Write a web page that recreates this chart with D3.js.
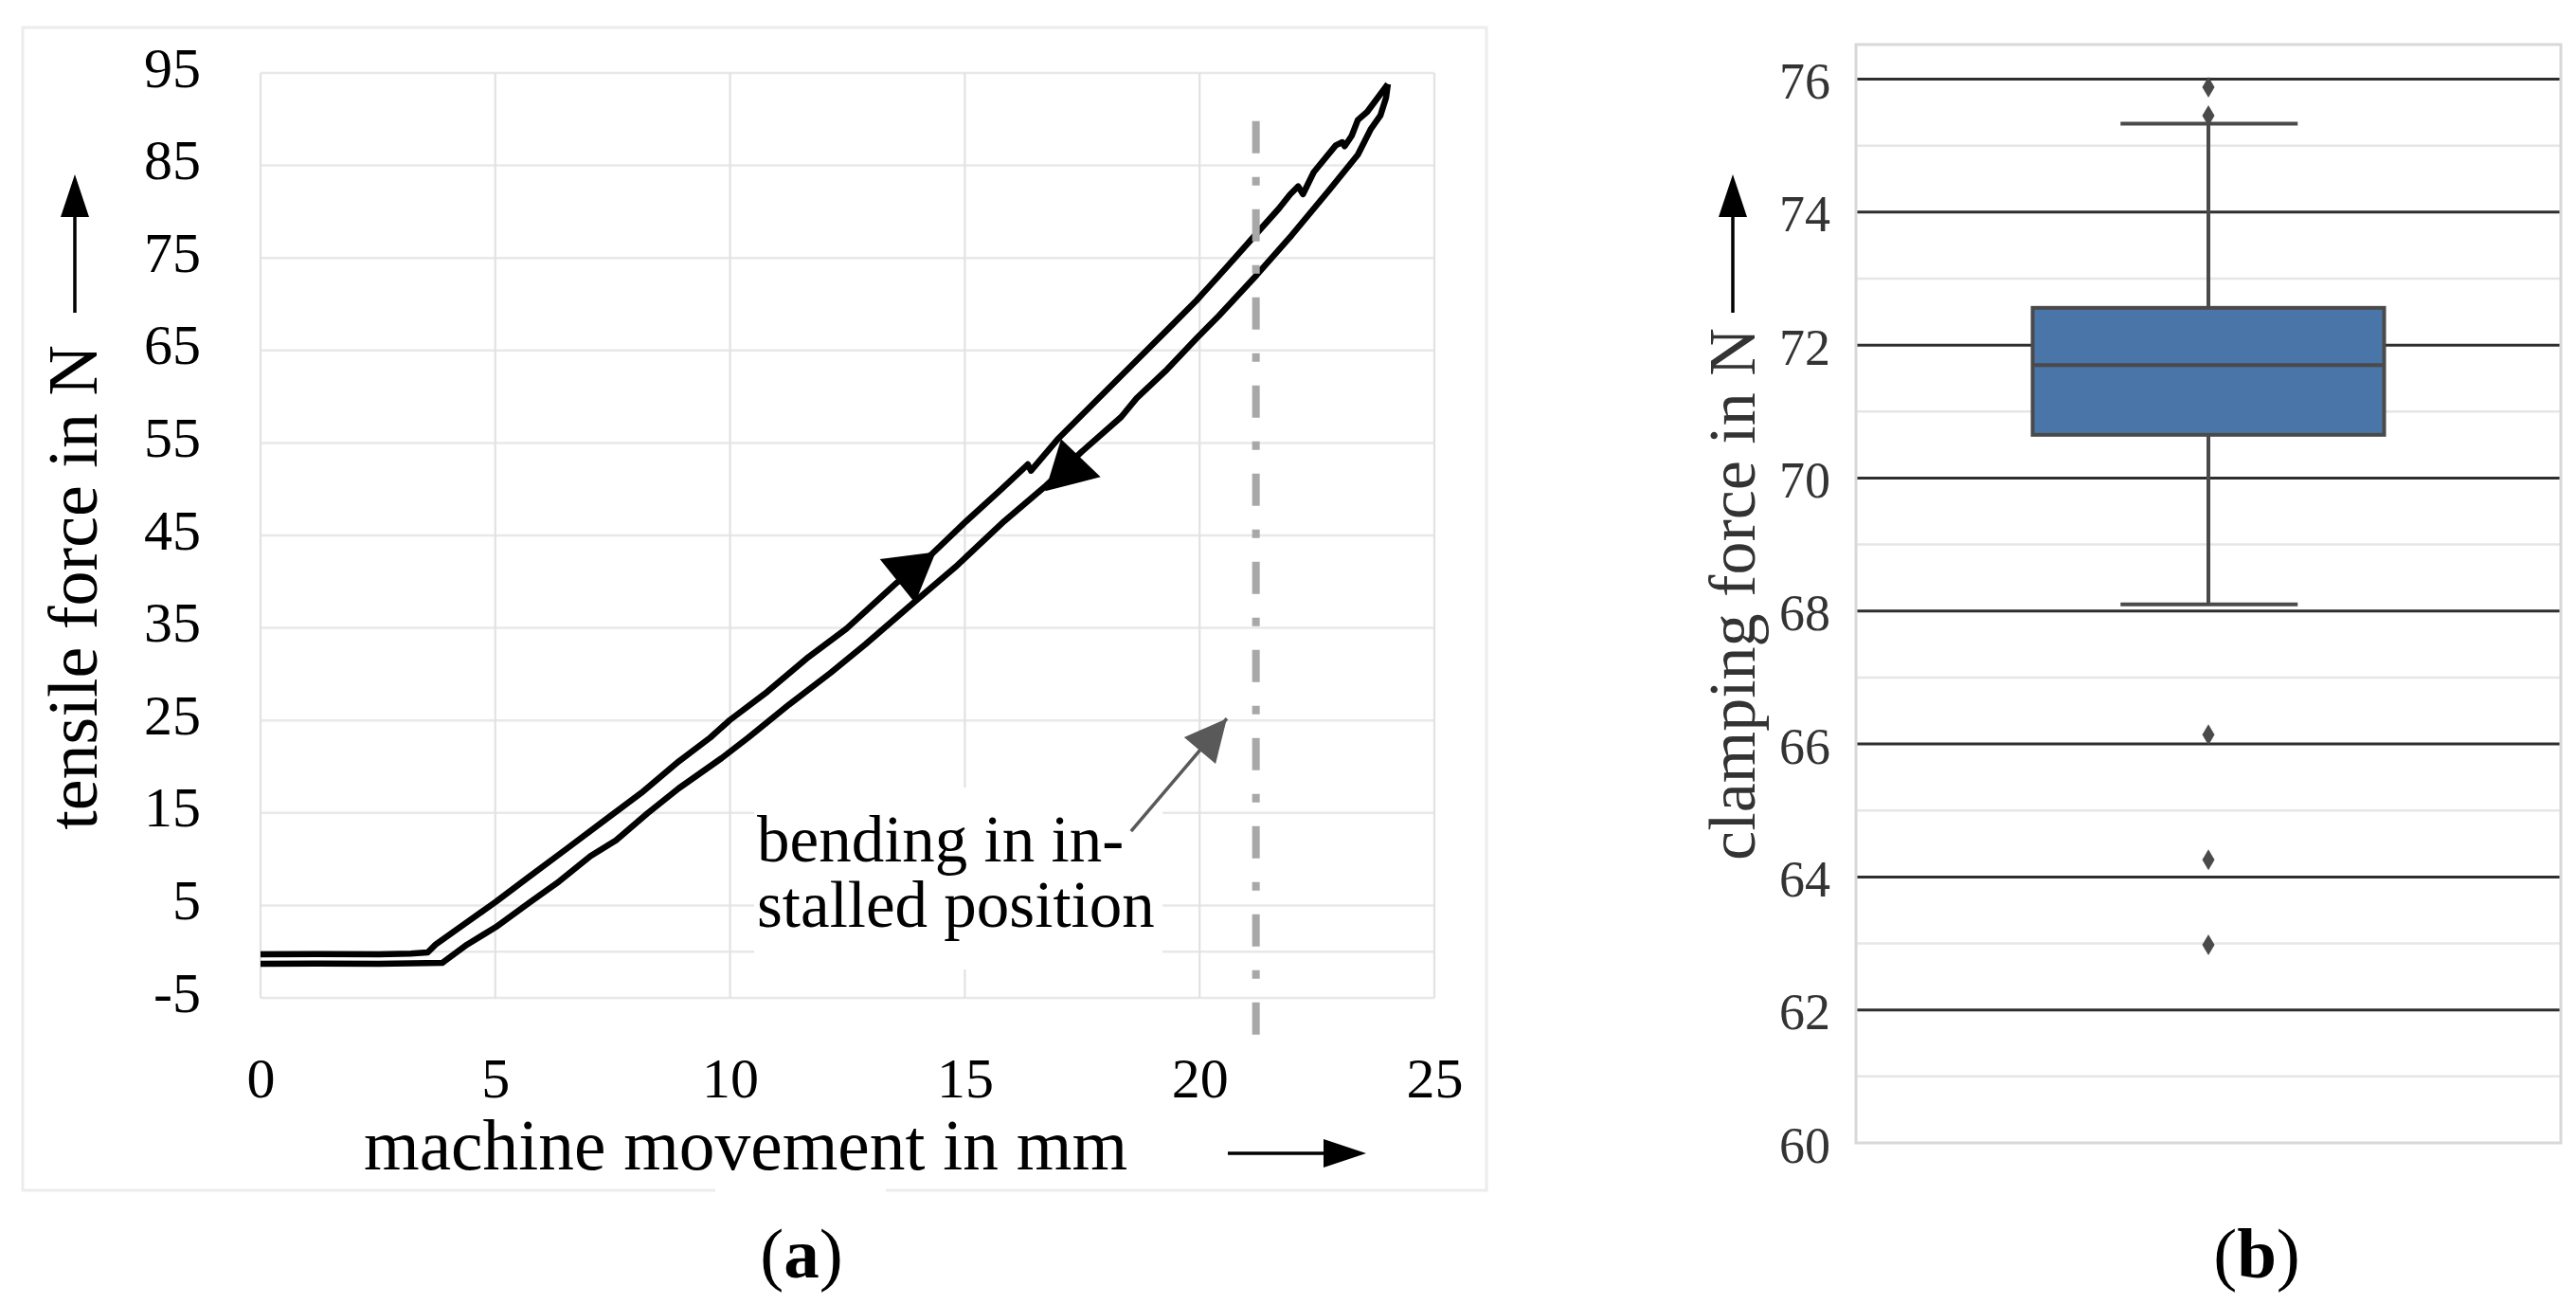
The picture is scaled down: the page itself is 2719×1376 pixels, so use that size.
<!DOCTYPE html>
<html>
<head>
<meta charset="utf-8">
<script src="https://cdn.jsdelivr.net/npm/d3@7"></script>
<style>
    html, body { margin: 0; background: #fff; }
    svg { display: block; }
    text { font-family: "Liberation Serif", serif; }
</style>
</head>
<body>
<svg width="2719" height="1376"></svg>
<script>
// panel a: tensile test
const movementTicks = [0, 5, 10, 15, 20, 25];
const forceTicks = [95, 85, 75, 65, 55, 45, 35, 25, 15, 5, -5];
const forceGrid = [95, 85, 75, 65, 55, 45, 35, 25, 15, 5, 0, -5];

const loadingX = [0, 1.2, 2.52, 3.2, 3.56, 3.73, 4.34, 5.01, 5.68, 6.49, 7.3, 8.11, 8.91, 9.58, 9.99, 10.79, 11.67, 12.48, 13.55, 14.29, 15.03, 15.77, 16.34, 16.41, 16.98, 17.92, 18.73, 19.34, 19.94, 20.55, 21.09, 21.69, 21.93, 22.1, 22.2, 22.43, 22.9, 23.04, 23.09, 23.24, 23.37, 23.57, 24.01];
const loadingY = [-0.29, -0.25, -0.29, -0.2, -0.08, 0.77, 2.99, 5.38, 7.94, 11.01, 14.09, 17.16, 20.58, 23.15, 25.02, 28.09, 31.85, 34.93, 39.88, 42.95, 46.54, 49.95, 52.68, 52, 55.42, 60.19, 64.29, 67.37, 70.44, 73.86, 76.94, 80.35, 81.89, 82.74, 81.89, 84.27, 87.18, 87.52, 87.08, 88.21, 89.91, 90.8, 93.8];
const unloadingX = [24.01, 23.97, 23.85, 23.64, 23.37, 22.77, 21.96, 21.22, 20.41, 19.94, 19.27, 18.66, 18.33, 17.49, 16.71, 15.84, 14.8, 13.89, 12.88, 12.14, 11.26, 10.39, 9.82, 8.91, 8.24, 7.57, 7.03, 6.36, 5.75, 5.01, 4.4, 3.87, 3.2, 2.52, 1.2, 0];
const unloadingY = [93.8, 92.3, 90.4, 88.88, 86.16, 82.4, 77.45, 73.18, 68.74, 66.34, 62.76, 59.84, 57.81, 54.05, 50.3, 46.54, 41.59, 37.65, 33.22, 30.14, 26.73, 23.15, 20.92, 17.67, 14.95, 12.04, 10.34, 7.6, 5.38, 2.65, 0.77, -1.21, -1.25, -1.31, -1.28, -1.31];

const flowMarkers = [
    [[13.19, 42.44], [14.38, 43.2], [13.94, 37.7]],
    [[17.05, 55.42], [17.89, 51.32], [16.71, 49.78]]
];
const bendingPosition = 21.2;
const bendingSpan = [89.8, -9];
const noteArrow = { tail: [18.54, 13.03], tip: [20.58, 25.2], head: [[19.67, 23.18], [20.34, 20.3]] };

// panel b: clamping force box plot
const clampTicks = [76, 74, 72, 70, 68, 66, 64, 62, 60];
const clampMinor = [75, 73, 71, 69, 67, 65, 63, 61];
const boxStats = { q1: 70.65, median: 71.7, q3: 72.56, low: 68.1, high: 75.33 };
const outliers = [75.88, 75.45, 66.14, 64.26, 62.98];

const svg = d3.select("svg");

function arrowUp(x, top) {
    svg.append("line").attr("x1", x).attr("x2", x).attr("y1", top + 40).attr("y2", top + 146)
        .attr("stroke", "#000").attr("stroke-width", 3.5);
    svg.append("polygon").attr("points", `${x},${top} ${x - 15},${top + 45} ${x + 15},${top + 45}`).attr("fill", "#000");
}

// ---- panel a ----
const xA = d3.scaleLinear().domain([0, 25]).range([275, 1514]);
const yA = d3.scaleLinear().domain([-5, 95]).range([1053, 77]);

svg.append("rect").attr("x", 24).attr("y", 29).attr("width", 1545).attr("height", 1227)
    .attr("fill", "#fff").attr("stroke", "#ececec").attr("stroke-width", 3);

const gridA = svg.append("g");
gridA.selectAll("line.h").data(forceGrid).join("line").attr("class", "h")
    .attr("x1", xA(0)).attr("x2", xA(25)).attr("y1", d => yA(d)).attr("y2", d => yA(d))
    .attr("stroke", "#e8e8e8").attr("stroke-width", 2.5);
gridA.selectAll("line.v").data(movementTicks).join("line").attr("class", "v")
    .attr("x1", d => xA(d)).attr("x2", d => xA(d)).attr("y1", yA(95)).attr("y2", yA(-5))
    .attr("stroke", "#e2e2e2").attr("stroke-width", 2.2);

// white patches behind the note and the axis title
svg.append("rect").attr("x", 796).attr("y", 831).attr("width", 431).attr("height", 192).attr("fill", "#fff");
svg.append("rect").attr("x", 755).attr("y", 1240).attr("width", 180).attr("height", 20).attr("fill", "#fff");

const axisLeftA = d3.axisLeft(yA).tickValues(forceTicks).tickSize(0).tickPadding(0).tickFormat(d => String(d));
svg.append("g").attr("transform", "translate(212,0)").call(axisLeftA)
    .call(g => g.select(".domain").remove())
    .call(g => g.selectAll("text").attr("dy", 14).attr("font-size", 60).attr("fill", "#000").attr("font-family", "Liberation Serif"));

const axisBottomA = d3.axisBottom(xA).tickValues(movementTicks).tickSize(0).tickPadding(0);
svg.append("g").attr("transform", "translate(0,1157.5)").call(axisBottomA)
    .call(g => g.select(".domain").remove())
    .call(g => g.selectAll("text").attr("dy", 0).attr("font-size", 60).attr("fill", "#000").attr("font-family", "Liberation Serif"));

const lineA = d3.line().x(d => xA(d[0])).y(d => yA(d[1]));
[d3.zip(loadingX, loadingY), d3.zip(unloadingX, unloadingY)].forEach(pts => {
    svg.append("path").attr("d", lineA(pts)).attr("fill", "none")
        .attr("stroke", "#000").attr("stroke-width", 6.5).attr("stroke-linejoin", "round");
});

svg.selectAll("polygon.flow").data(flowMarkers).join("polygon").attr("class", "flow")
    .attr("points", d => d.map(p => `${xA(p[0])},${yA(p[1])}`).join(" "))
    .attr("fill", "#000");

svg.append("line")
    .attr("x1", xA(bendingPosition)).attr("x2", xA(bendingPosition))
    .attr("y1", yA(bendingSpan[0])).attr("y2", yA(bendingSpan[1]))
    .attr("stroke", "#a8a8a8").attr("stroke-width", 8).attr("stroke-dasharray", "34 25 9 25");

svg.append("line")
    .attr("x1", xA(noteArrow.tail[0])).attr("y1", yA(noteArrow.tail[1]))
    .attr("x2", xA(noteArrow.tip[0])).attr("y2", yA(noteArrow.tip[1]))
    .attr("stroke", "#595959").attr("stroke-width", 3.5);
svg.append("polygon")
    .attr("points", [noteArrow.tip, ...noteArrow.head].map(p => `${xA(p[0])},${yA(p[1])}`).join(" "))
    .attr("fill", "#595959");

svg.append("text").attr("x", 799).attr("y", 909).attr("font-size", 69).attr("fill", "#000").text("bending in in-");
svg.append("text").attr("x", 799).attr("y", 978).attr("font-size", 69).attr("fill", "#000").text("stalled position");

svg.append("text").attr("x", 384).attr("y", 1234).attr("font-size", 75.4).attr("fill", "#000").text("machine movement in mm");
svg.append("text").attr("transform", "translate(102,620) rotate(-90)").attr("text-anchor", "middle")
    .attr("font-size", 74).attr("fill", "#000").text("tensile force in N");

arrowUp(79, 184);
svg.append("line").attr("x1", 1296).attr("x2", 1400).attr("y1", 1217).attr("y2", 1217)
    .attr("stroke", "#000").attr("stroke-width", 3.5);
svg.append("polygon").attr("points", "1442,1217 1397,1202 1397,1232").attr("fill", "#000");

const capA = svg.append("text").attr("x", 846).attr("y", 1348).attr("text-anchor", "middle").attr("font-size", 75).attr("fill", "#000");
capA.append("tspan").text("(");
capA.append("tspan").attr("font-weight", "bold").text("a");
capA.append("tspan").text(")");

// ---- panel b ----
const xB = d3.scaleLinear().domain([-0.5, 0.5]).range([1960, 2702]);
const yB = d3.scaleLinear().domain([60, 76]).range([1206, 83.5]);
const yTop = 47;

svg.selectAll("line.minor").data(clampMinor).join("line").attr("class", "minor")
    .attr("x1", xB(-0.5)).attr("x2", xB(0.5)).attr("y1", d => yB(d)).attr("y2", d => yB(d))
    .attr("stroke", "#e6e6e6").attr("stroke-width", 2.5);
svg.selectAll("line.major").data(clampTicks.filter(d => d > 60)).join("line").attr("class", "major")
    .attr("x1", xB(-0.5)).attr("x2", xB(0.5)).attr("y1", d => yB(d)).attr("y2", d => yB(d))
    .attr("stroke", "#2e2e2e").attr("stroke-width", 3);

svg.append("rect").attr("x", 1959).attr("y", yTop).attr("width", 744).attr("height", yB(60) - yTop)
    .attr("fill", "none").attr("stroke", "#d8d8d8").attr("stroke-width", 3);

const axisLeftB = d3.axisLeft(yB).tickValues(clampTicks).tickSize(0).tickPadding(0);
svg.append("g").attr("transform", "translate(1932,0)").call(axisLeftB)
    .call(g => g.select(".domain").remove())
    .call(g => g.selectAll("text").attr("dy", 20).attr("font-size", 54).attr("fill", "#333").attr("font-family", "Liberation Serif"));

const boxColor = "#4a4a4a";
svg.append("line").attr("x1", xB(0)).attr("x2", xB(0)).attr("y1", yB(boxStats.high)).attr("y2", yB(boxStats.low))
    .attr("stroke", boxColor).attr("stroke-width", 4);
[boxStats.high, boxStats.low].forEach(v => {
    svg.append("line").attr("x1", xB(-0.125)).attr("x2", xB(0.127)).attr("y1", yB(v)).attr("y2", yB(v))
        .attr("stroke", boxColor).attr("stroke-width", 4);
});
svg.append("rect").attr("x", xB(-0.25)).attr("width", xB(0.25) - xB(-0.25))
    .attr("y", yB(boxStats.q3)).attr("height", yB(boxStats.q1) - yB(boxStats.q3))
    .attr("fill", "#4a75a8").attr("stroke", boxColor).attr("stroke-width", 4);
svg.append("line").attr("x1", xB(-0.25)).attr("x2", xB(0.25)).attr("y1", yB(boxStats.median)).attr("y2", yB(boxStats.median))
    .attr("stroke", boxColor).attr("stroke-width", 4);

svg.selectAll("path.outlier").data(outliers).join("path").attr("class", "outlier")
    .attr("d", "M0,-11 L6.5,0 L0,11 L-6.5,0 Z")
    .attr("transform", d => `translate(${xB(0)},${yB(d)})`)
    .attr("fill", boxColor);

svg.append("text").attr("transform", "translate(1852,627) rotate(-90)").attr("text-anchor", "middle")
    .attr("font-size", 70).attr("fill", "#333").text("clamping force in N");
arrowUp(1829, 184);

const capB = svg.append("text").attr("x", 2382).attr("y", 1348).attr("text-anchor", "middle").attr("font-size", 75).attr("fill", "#000");
capB.append("tspan").text("(");
capB.append("tspan").attr("font-weight", "bold").text("b");
capB.append("tspan").text(")");
</script>
</body>
</html>
